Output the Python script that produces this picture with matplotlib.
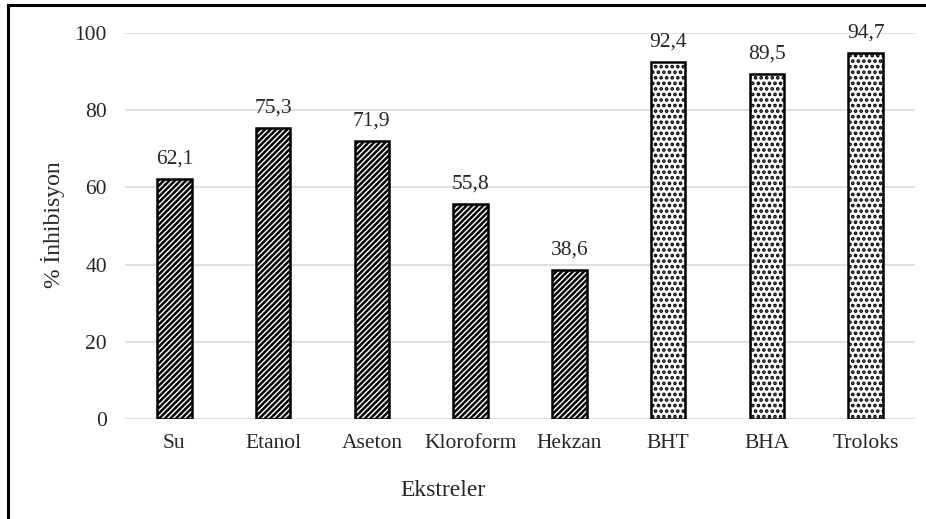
import matplotlib
matplotlib.use("Agg")
import matplotlib.pyplot as plt
from matplotlib.lines import Line2D

plt.rcParams["font.family"] = ["Liberation Serif", "DejaVu Serif"]
plt.rcParams["hatch.linewidth"] = 1.8

# Ekstre ve standartların inhibisyon değerleri
kategoriler = ["Su", "Etanol", "Aseton", "Kloroform", "Hekzan", "BHT", "BHA", "Troloks"]
inhibisyon = [62.1, 75.3, 71.9, 55.8, 38.6, 92.4, 89.5, 94.7]
desenler = ["//////"] * 5 + ["..."] * 3
etiketler = ["62,1", "75,3", "71,9", "55,8", "38,6", "92,4", "89,5", "94,7"]

W, H = 926, 519
YAZI = "#262626"


def ciz():
    fig = plt.figure(figsize=(W / 100, H / 100), dpi=100)
    ax = fig.add_axes([125 / W, 1 - 419 / H, 790 / W, 386 / H])

    x = range(len(kategoriler))
    bars = ax.bar(x, inhibisyon, width=0.35, color="white", edgecolor="black",
                  linewidth=1.8, zorder=3)
    for bar, h in zip(bars, desenler):
        bar.set_hatch(h)

    for xi, val, lab in zip(x, inhibisyon, etiketler):
        ax.text(xi, val + 4.0, lab, ha="center", va="baseline", fontsize=15.5,
                color=YAZI, clip_on=False)

    ax.set_xlim(-0.5, len(kategoriler) - 0.5)
    ax.set_ylim(0, 100)
    ax.set_yticks(range(0, 101, 20))
    ax.set_xticks(list(x))
    ax.set_xticklabels(kategoriler)
    ax.tick_params(axis="both", length=0, labelsize=15.5, colors=YAZI)
    ax.tick_params(axis="y", pad=13)
    ax.tick_params(axis="x", pad=11)

    ax.grid(axis="y", color="#d9d9d9", linewidth=1.2, zorder=0)
    for s in ax.spines.values():
        s.set_visible(False)

    # eksen başlıkları
    fig.text(53 / W, 1 - 225 / H, "% İnhibisyon", rotation=90, ha="center",
             va="center", fontsize=17, color=YAZI)
    fig.text(443 / W, 1 - 490 / H, "Ekstreler", ha="center", va="center",
             fontsize=17, color=YAZI)

    # dış çerçeve (sol ve üst)
    x0 = 8 / W
    y0 = 1 - 5 / H
    fig.add_artist(Line2D([x0, x0], [0, y0], color="black", linewidth=2.2,
                          transform=fig.transFigure))
    fig.add_artist(Line2D([x0, 1], [y0, y0], color="black", linewidth=2.2,
                          transform=fig.transFigure))

    fig.savefig("out.png", dpi=100, facecolor="white")
    plt.close(fig)


if __name__ == "__main__":
    ciz()
